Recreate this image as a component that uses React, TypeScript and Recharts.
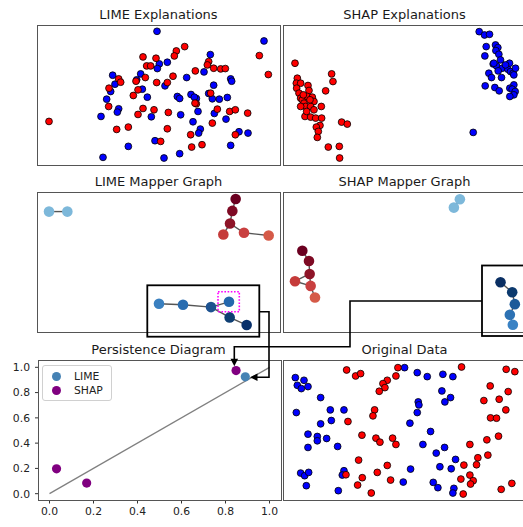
import { ScatterChart, Scatter, XAxis, YAxis, ReferenceLine } from 'recharts';

// values, in each panel's own (pixel-like) units, y grows downward
const limeBlue = [
  [379, 94], [700, 123], [539, 164], [386, 192], [410, 187], [380, 206], [246, 226], [253, 253],
  [240, 275], [330, 222], [318, 240], [335, 268], [228, 298], [264, 327], [260, 337], [211, 350],
  [350, 292], [362, 351], [403, 258], [440, 290], [447, 296], [468, 233], [520, 216], [481, 284],
  [497, 296], [502, 335], [549, 256], [534, 281], [545, 297], [566, 298], [590, 293], [600, 237],
  [603, 244], [551, 341], [586, 358], [487, 366], [509, 388], [504, 400], [450, 345], [373, 423],
  [293, 440], [217, 473], [400, 475], [447, 462], [600, 437], [625, 396], [652, 400], [491, 292],
];
const limeRed = [
  [55, 365], [337, 171], [376, 175], [437, 153], [431, 168], [462, 140], [686, 167], [713, 224],
  [348, 198], [360, 198], [264, 237], [270, 247], [235, 265], [316, 244], [322, 270], [344, 233],
  [378, 248], [410, 248], [427, 229], [308, 287], [234, 320], [337, 326], [322, 344], [370, 330],
  [413, 338], [494, 213], [534, 185], [530, 195], [549, 205], [570, 207], [584, 206], [540, 280],
  [497, 312], [560, 328], [597, 335], [614, 330], [651, 340], [545, 370], [410, 387], [293, 382],
  [258, 389], [390, 425], [480, 405], [514, 435], [483, 442], [614, 405], [493, 310],
];

const shapRed = [
  [43, 190], [153, 222], [157, 245], [135, 273], [50, 235], [47, 250], [60, 250], [48, 265],
  [82, 257], [85, 272], [55, 280], [60, 295], [65, 300], [70, 310], [80, 290], [95, 292],
  [100, 305], [75, 320], [90, 320], [100, 330], [122, 320], [73, 350], [90, 352], [105, 355],
  [123, 355], [118, 377], [107, 382], [113, 395], [110, 413], [183, 367], [200, 373], [143, 442],
  [176, 440], [177, 475], [60, 320], [68, 285], [88, 300], [78, 335],
];
const shapBlue = [
  [596, 95], [612, 105], [627, 103], [617, 140], [645, 135], [652, 143], [646, 152], [655, 163],
  [613, 168], [660, 180], [638, 192], [648, 198], [687, 190], [665, 205], [682, 208], [690, 215],
  [698, 220], [700, 225], [653, 213], [625, 220], [633, 233], [663, 233], [614, 258], [643, 263],
  [656, 273], [700, 255], [688, 265], [695, 268], [704, 275], [700, 285], [688, 290], [578, 398],
  [640, 190], [675, 195], [705, 205],
];

// mapper graphs: nodes [x, y, colour], edges as node index pairs
const limeNodes: [number, number, string][] = [
  [55, 124, '#7db8da'], [110, 124, '#7db8da'],
  [615, 86, '#6b0020'], [605, 122, '#7e0a24'], [598, 160, '#8e1428'],
  [578, 193, '#c53b3a'], [640, 188, '#c94040'], [714, 196, '#d55a48'],
  [385, 402, '#3a80c0'], [457, 405, '#2a6db0'], [541, 412, '#1d5290'],
  [595, 396, '#2468ad'], [597, 443, '#0f3f73'], [648, 466, '#08306b'],
];
const limeEdges = [[0, 1], [2, 3], [3, 4], [4, 5], [4, 6], [6, 7], [8, 9], [9, 10], [10, 11], [10, 12], [12, 13]];

const shapNodes: [number, number, string][] = [
  [538, 87, '#7db8da'], [520, 112, '#7db8da'],
  [65, 242, '#6b0020'], [85, 273, '#7e0a24'], [87, 312, '#8e1428'],
  [43, 334, '#c53b3a'], [90, 348, '#c94040'], [103, 383, '#d55a48'],
  [660, 337, '#0a2f63'], [695, 367, '#0c3a6e'], [703, 403, '#1c5a9a'],
  [688, 435, '#2d72b4'], [697, 465, '#3a82c4'],
];
const shapEdges = [[0, 1], [2, 3], [3, 4], [4, 5], [4, 6], [5, 6], [6, 7], [8, 9], [9, 10], [10, 11], [11, 12]];

// persistence diagram (birth, death)
const persLime = [[0.89, 0.925]];
const persShap = [[0.848, 0.974], [0.032, 0.197], [0.169, 0.084]];
const persTicks = [0, 0.2, 0.4, 0.6, 0.8, 1.0];

const origBlue = [
  [44, 110], [70, 118], [50, 133], [62, 143], [82, 137], [120, 170], [47, 215], [149, 207],
  [190, 207], [152, 239], [120, 249], [82, 280], [110, 287], [110, 300], [138, 293], [82, 320],
  [171, 317], [60, 397], [72, 405], [84, 395], [77, 435], [173, 450], [190, 390], [185, 403],
  [372, 80], [410, 95], [440, 107], [487, 100], [517, 107], [484, 150], [510, 170], [493, 183],
  [413, 183], [415, 192], [410, 215], [388, 247], [450, 272], [427, 311], [467, 337], [492, 320],
  [525, 356], [478, 378], [512, 384], [390, 385], [368, 424], [458, 425], [472, 441], [520, 443],
  [517, 457],
];
const origRed = [
  [198, 87], [225, 105], [240, 98], [352, 80], [346, 105], [320, 118], [307, 128], [313, 140],
  [296, 151], [543, 78], [677, 85], [703, 92], [629, 135], [683, 152], [610, 179], [656, 175],
  [676, 207], [630, 231], [648, 232], [202, 242], [282, 207], [277, 225], [244, 283], [286, 292],
  [298, 304], [336, 292], [346, 311], [234, 358], [320, 374], [290, 395], [245, 411], [231, 433],
  [196, 402], [272, 457], [330, 418], [568, 311], [619, 297], [654, 286], [622, 343], [592, 351],
  [588, 372], [550, 373], [568, 403], [541, 415], [578, 420], [570, 430], [548, 460], [662, 446],
  [694, 428],
];

const W = 242;
const H = 139;
const COL = [37.5, 283.5];
const ROW = [25, 192.5, 360.5];
const FONT = '"DejaVu Sans", sans-serif';

const pts = (a: number[][]) => a.map(([x, y]) => ({ x, y }));

const dot = (fill: string) => (p: any) => (
  <circle cx={p.cx} cy={p.cy} r={3.4} fill={fill} stroke="#000" strokeWidth={0.8} />
);
const node = (p: any) => <circle cx={p.cx} cy={p.cy} r={5.3} fill={p.payload.c} />;

function Title({ text, left, top, width }: { text: string; left: number; top: number; width: number }) {
  return (
    <div
      style={{
        position: 'absolute', left, top, width, textAlign: 'center',
        fontSize: 13, lineHeight: '15px', color: '#1a1a1a', whiteSpace: 'nowrap',
      }}
    >
      {text}
    </div>
  );
}

function Box({ left, top }: { left: number; top: number }) {
  return (
    <div
      style={{
        position: 'absolute', left: left - 0.5, top: top - 0.5, width: W, height: H,
        border: '1px solid #555', pointerEvents: 'none',
      }}
    />
  );
}

function Panel({ left, top, xDom, yDom, children }: any) {
  return (
    <>
      <div style={{ position: 'absolute', left, top }}>
        <ScatterChart width={W} height={H} margin={{ top: 0, right: 0, bottom: 0, left: 0 }}>
          <XAxis type="number" dataKey="x" domain={xDom} hide allowDataOverflow />
          <YAxis type="number" dataKey="y" domain={yDom} reversed hide allowDataOverflow />
          {children}
        </ScatterChart>
      </div>
      <Box left={left} top={top} />
    </>
  );
}

function graph(nodes: [number, number, string][], edges: number[][]) {
  const data = nodes.map(([x, y, c]) => ({ x, y, c }));
  return [
    ...edges.map(([a, b], i) => (
      <ReferenceLine
        key={'e' + i}
        segment={[{ x: nodes[a][0], y: nodes[a][1] }, { x: nodes[b][0], y: nodes[b][1] }]}
        stroke="#555"
        strokeWidth={1.4}
        ifOverflow="visible"
      />
    )),
    <Scatter key="n" data={data} shape={node} isAnimationActive={false} />,
  ];
}

export default function App() {
  return (
    <div
      style={{
        position: 'absolute', left: 0, top: 0, width: 523, height: 527,
        overflow: 'hidden', background: '#fff', fontFamily: FONT,
      }}
    >
      <Title text="LIME Explanations" left={COL[0]} top={6.8} width={W} />
      <Title text="SHAP Explanations" left={COL[1]} top={6.8} width={W} />
      <Title text="LIME Mapper Graph" left={COL[0]} top={174.2} width={W} />
      <Title text="SHAP Mapper Graph" left={COL[1]} top={174.2} width={W} />
      <Title text="Persistence Diagram" left={COL[0]} top={341.5} width={W} />
      <Title text="Original Data" left={COL[1]} top={341.5} width={W} />

      <Panel left={COL[0]} top={ROW[0]} xDom={[22, 748]} yDom={[75, 493]}>
        <Scatter data={pts(limeBlue)} shape={dot('#0000ff')} isAnimationActive={false} />
        <Scatter data={pts(limeRed)} shape={dot('#ff0000')} isAnimationActive={false} />
      </Panel>
      <Panel left={COL[1]} top={ROW[0]} xDom={[10, 736.5]} yDom={[75, 493]}>
        <Scatter data={pts(shapBlue)} shape={dot('#0000ff')} isAnimationActive={false} />
        <Scatter data={pts(shapRed)} shape={dot('#ff0000')} isAnimationActive={false} />
      </Panel>

      <Panel left={COL[0]} top={ROW[1]} xDom={[22, 748]} yDom={[68, 487]}>
        {graph(limeNodes, limeEdges)}
      </Panel>
      <Panel left={COL[1]} top={ROW[1]} xDom={[10, 736.5]} yDom={[68, 487]}>
        {graph(shapNodes, shapEdges)}
      </Panel>

      {/* persistence diagram with real axes */}
      <div style={{ position: 'absolute', left: 8, top: ROW[2] }}>
        <ScatterChart width={30.5 + W} height={H + 24} margin={{ top: 0, right: 0, bottom: 0, left: 0 }}>
          <XAxis
            type="number" dataKey="x" domain={[-0.05, 1.05]} ticks={persTicks} height={24}
            tickFormatter={(v) => v.toFixed(1)} axisLine={false} tickSize={3.5} tickMargin={4}
            tick={{ fontSize: 10.8, fill: '#222' }} tickLine={{ stroke: '#333' }} allowDataOverflow
          />
          <YAxis
            type="number" dataKey="y" domain={[-0.05, 1.05]} ticks={persTicks} width={30.5}
            tickFormatter={(v) => v.toFixed(1)} axisLine={false} tickSize={3.5} tickMargin={5}
            tick={{ fontSize: 10.8, fill: '#222' }} tickLine={{ stroke: '#333' }} allowDataOverflow
          />
          <ReferenceLine segment={[{ x: 0, y: 0 }, { x: 1, y: 1 }]} stroke="#808080" strokeWidth={1.3} />
          <Scatter data={pts(persLime)} fill="#4682b4" shape={(p: any) => <circle cx={p.cx} cy={p.cy} r={4.6} fill="#4682b4" />} isAnimationActive={false} />
          <Scatter data={pts(persShap)} fill="#800080" shape={(p: any) => <circle cx={p.cx} cy={p.cy} r={4.6} fill="#800080" />} isAnimationActive={false} />
        </ScatterChart>
      </div>
      <Box left={COL[0] + 1} top={ROW[2]} />
      <div
        style={{
          position: 'absolute', left: 42, top: 365, width: 70, height: 36, boxSizing: 'border-box',
          border: '1px solid #d0d0d0', borderRadius: 3, background: 'rgba(255,255,255,0.8)',
          fontSize: 10.8, color: '#222',
        }}
      >
        {[['LIME', '#4682b4'], ['SHAP', '#800080']].map(([label, c], i) => (
          <div key={label} style={{ position: 'absolute', left: 9, top: 4 + i * 13.6, height: 13, display: 'flex', alignItems: 'center' }}>
            <span style={{ width: 9, height: 9, borderRadius: '50%', background: c, display: 'inline-block' }} />
            <span style={{ marginLeft: 13 }}>{label}</span>
          </div>
        ))}
      </div>

      <Panel left={COL[1]} top={ROW[2]} xDom={[10, 736.5]} yDom={[60, 478]}>
        <Scatter data={pts(origBlue)} shape={dot('#0000ff')} isAnimationActive={false} />
        <Scatter data={pts(origRed)} shape={dot('#ff0000')} isAnimationActive={false} />
      </Panel>

      {/* highlight boxes and connectors */}
      <svg width={523} height={527} style={{ position: 'absolute', left: 0, top: 0, pointerEvents: 'none' }}>
        <rect x={147.3} y={285.3} width={112} height={51.4} fill="none" stroke="#000" strokeWidth={1.8} />
        <rect x={218} y={291.7} width={21.3} height={20} fill="none" stroke="#ff00ff" strokeWidth={1.6} strokeDasharray="1.6 1.6" />
        <rect x={482} y={265.5} width={60} height={70.5} fill="none" stroke="#000" strokeWidth={1.8} />
        <path d="M259.3 311.7 H269 V377.3 H256" fill="none" stroke="#000" strokeWidth={1.6} />
        <polygon points="250,377.3 257.5,373.5 257.5,381.1" fill="#000" />
        <path d="M482 301 H350 V346.7 H234.3 V360" fill="none" stroke="#000" strokeWidth={1.6} />
        <polygon points="234.3,366.3 230.5,358.8 238.1,358.8" fill="#000" />
      </svg>
    </div>
  );
}
